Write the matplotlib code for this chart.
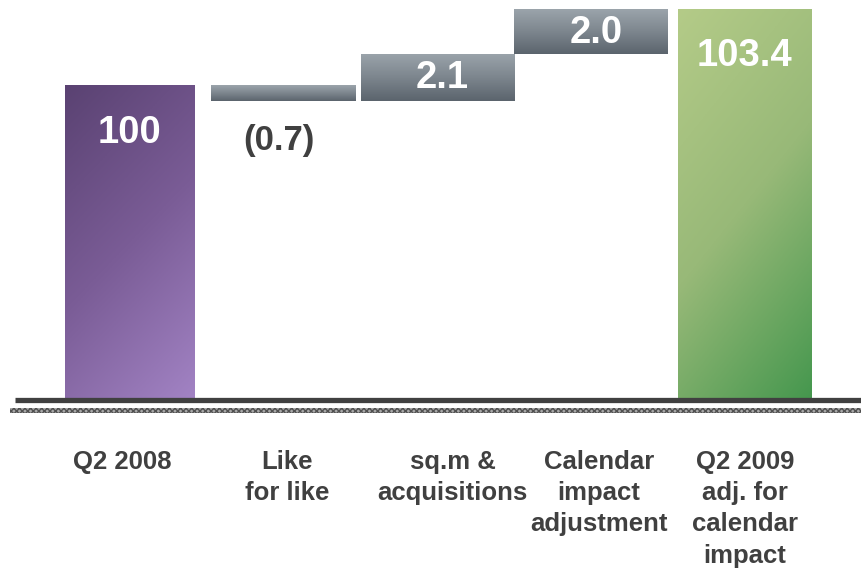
import numpy as np
import matplotlib
matplotlib.use("Agg")
import matplotlib.pyplot as plt
from matplotlib.colors import LinearSegmentedColormap
from matplotlib.patches import Rectangle

plt.rcParams['font.family'] = ['Liberation Sans', 'DejaVu Sans']

# Waterfall data: opening level, changes, closing level
categories = ["Q2 2008", "Like\nfor like", "sq.m &\nacquisitions",
              "Calendar\nimpact\nadjustment", "Q2 2009\nadj. for\ncalendar\nimpact"]
values = [100.0, -0.7, 2.1, 2.0, 103.4]
kinds = ["total", "delta", "delta", "delta", "total"]
value_labels = ["100", "(0.7)", "2.1", "2.0", "103.4"]

Y_FLOOR = 86.0
Y_TOP = 103.8

fig = plt.figure(figsize=(8.62, 5.68), dpi=100)
ax = fig.add_axes([0, 168 / 568, 1, 400 / 568])
ax.set_xlim(-0.8455, 4.761)
ax.set_ylim(Y_FLOOR, Y_TOP)
ax.axis("off")

purple = LinearSegmentedColormap.from_list("purple", ["#5a4272", "#7a5c96", "#a283c4"])
green = LinearSegmentedColormap.from_list("green", ["#b4cb88", "#98b978", "#45974e"])
grey = LinearSegmentedColormap.from_list("grey", ["#9ba4ab", "#7d868e", "#5b646d"])

widths = [0.84, 0.94, 1.0, 1.0, 0.87]
label_shift = [-0.05, 0.02, 0.1, 0.05, 0.0]


def gradient_bar(x, y0, y1, w, cmap, diag=0.25):
    # t runs from 0 at the top-left corner to 1 at the bottom-right corner
    n = 200
    yy, xx = np.mgrid[0:1:n * 1j, 0:1:n * 1j]
    t = (1 - diag) * yy + diag * xx
    t = (t - t.min()) / (t.max() - t.min())
    ext = (x - w / 2, x + w / 2, y0, y1)
    im = ax.imshow(t, cmap=cmap, extent=ext, aspect="auto", origin="upper",
                   interpolation="bilinear", zorder=2)
    rect = Rectangle((x - w / 2, y0), w, y1 - y0, transform=ax.transData,
                     facecolor="none", edgecolor="none")
    ax.add_patch(rect)
    im.set_clip_path(rect)


running = 0.0
for i, (v, k) in enumerate(zip(values, kinds)):
    w = widths[i]
    if k == "total":
        cmap = purple if i == 0 else green
        gradient_bar(i, Y_FLOOR, v, w, cmap, diag=0.3)
        running = v
        ax.text(i, v - 2.1, value_labels[i], ha="center", va="center",
                color="white", fontsize=27.5, fontweight="bold", zorder=3)
    else:
        lo, hi = sorted([running, running + v])
        gradient_bar(i, lo, hi, w, grey, diag=0.0)
        if v < 0:
            ax.text(i - 0.03, lo - 1.75, value_labels[i], ha="center", va="center",
                    color="#404040", fontsize=25, fontweight="bold", zorder=3)
        else:
            ax.text(i + 0.03, hi - 1.08, value_labels[i], ha="center", va="center",
                    color="white", fontsize=27.5, fontweight="bold", zorder=3)
        running += v

# Baseline and textured strip beneath it
ax.axhline(Y_FLOOR - 0.02, xmin=15 / 862, xmax=1, color="#404040",
           linewidth=3.8, clip_on=False, zorder=4, solid_capstyle="butt")
strip = Rectangle((10 / 862, -13 / 400), 1 - 10 / 862, 5 / 400,
                  transform=ax.transAxes, facecolor="#a8a8a8",
                  edgecolor="#505050", hatch="xxxxxx", linewidth=0,
                  clip_on=False, zorder=4)
ax.add_patch(strip)

for i, lab in enumerate(categories):
    ax.text(i + label_shift[i], -50 / 400, lab, transform=ax.get_xaxis_transform(),
            ha="center", va="top", color="#404040", fontsize=18.5,
            fontweight="bold", linespacing=1.38, multialignment="center")

fig.savefig("out.png", dpi=100)
